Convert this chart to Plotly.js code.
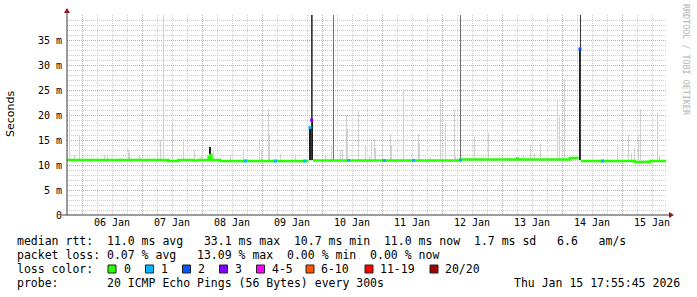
<!DOCTYPE html>
<html><head><meta charset="utf-8">
<script src="https://cdn.plot.ly/plotly-3.0.1.min.js"></script>
<style>html,body{margin:0;padding:0;background:#fff}</style>
</head><body><div id="chart" style="width:697px;height:297px"></div>
<script>
// ---------- data ----------
const xRange = ['2026-01-05 18:00', '2026-01-15 18:00'];
const yTickVals = [0, 5, 10, 15, 20, 25, 30, 35];
const yTickText = ['0', '5 m', '10 m', '15 m', '20 m', '25 m', '30 m', '35 m'];

// median rtt (ms), step line; null = gap where median is drawn as loss-coloured point
const medianTimes = ['2026-01-05 18:00','2026-01-07 10:25','2026-01-07 14:30','2026-01-07 20:40','2026-01-07 22:30',
  '2026-01-08 02:40','2026-01-08 03:20','2026-01-08 03:45','2026-01-08 07:10','2026-01-09 18:40','2026-01-09 18:45',
  '2026-01-09 20:20','2026-01-12 07:20','2026-01-13 06:00','2026-01-13 06:25','2026-01-14 03:10','2026-01-14 06:40',
  '2026-01-14 06:45','2026-01-14 07:30','2026-01-15 05:10','2026-01-15 11:10','2026-01-15 17:35'];
const medianValues = [11.0,10.8,11.0,10.9,11.0,
  11.6,12.0,11.0,10.8,10.8,null,
  10.9,11.1,11.3,11.1,11.4,11.4,
  null,10.8,10.6,10.8,10.8];

// light smoke spikes: time, top (ms)
const smokeTimes = ['2026-01-05 18:55','2026-01-05 20:55','2026-01-05 22:55','2026-01-06 09:05','2026-01-06 10:15',
  '2026-01-06 18:25','2026-01-06 18:55','2026-01-06 22:55','2026-01-07 06:00','2026-01-07 07:35','2026-01-07 08:40',
  '2026-01-07 12:00','2026-01-07 16:40','2026-01-07 20:55','2026-01-07 23:45','2026-01-08 04:25','2026-01-08 11:35',
  '2026-01-08 16:40','2026-01-08 23:05','2026-01-08 23:45','2026-01-09 02:25','2026-01-09 02:55','2026-01-09 07:20',
  '2026-01-09 13:20','2026-01-10 01:35','2026-01-10 03:45','2026-01-10 07:20','2026-01-10 08:00','2026-01-10 09:45',
  '2026-01-10 10:15','2026-01-10 14:25','2026-01-10 17:35','2026-01-10 18:55','2026-01-10 19:45','2026-01-10 21:05',
  '2026-01-10 21:35','2026-01-11 00:15','2026-01-11 03:20','2026-01-11 03:55','2026-01-11 08:25','2026-01-11 12:00',
  '2026-01-11 14:25','2026-01-11 15:05','2026-01-11 19:20','2026-01-11 23:30','2026-01-12 01:20','2026-01-12 04:55',
  '2026-01-12 05:35','2026-01-12 12:50','2026-01-12 18:30','2026-01-13 08:25','2026-01-13 11:20','2026-01-13 13:05',
  '2026-01-13 15:20','2026-01-13 22:15','2026-01-13 23:05','2026-01-14 00:55','2026-01-14 22:00','2026-01-15 02:25',
  '2026-01-15 03:45','2026-01-15 04:55','2026-01-15 06:25','2026-01-15 07:20','2026-01-15 14:15','2026-01-15 15:05'];
const smokeTops = [21.1,12.0,15.8,12.0,11.8,
  13.1,12.5,12.0,13.0,15.0,45,
  18.3,15.3,13.0,12.0,13.0,12.0,
  13.3,14.7,12.8,21.2,16.3,12.3,
  12.3,12.0,13.8,13.0,13.0,20.1,
  17.2,20.8,13.8,12.0,15.3,15.3,
  13.5,14.5,16.3,14.0,25.2,12.5,
  16.3,14.5,11.7,23.5,18.3,21.2,
  11.7,15.7,16.5,12.0,14.1,12.5,
  14.3,23.1,19.7,27.2,14.3,16.1,
  12.5,13.5,16.1,21.2,20.5,12.0];

// dense (dark) smoke
const denseTimes = ['2026-01-08 02:55','2026-01-08 03:20','2026-01-09 18:48','2026-01-09 19:12','2026-01-09 19:36',
  '2026-01-09 20:00','2026-01-14 06:48','2026-01-14 07:12'];
const denseTops = [13.7,13.7,17.5,17.5,17.5,19.0,33.2,33.2];

// smoke that runs off the top of the chart
const darkTallTimes = ['2026-01-09 19:36','2026-01-14 07:12'];
const darkTallTops = [45, 45];
const grayTallTimes = ['2026-01-09 20:10','2026-01-10 04:30','2026-01-12 07:20'];
const grayTallTops = [45, 45, 45];

const smokeBase = 11.0;

// median points with packet loss: time, value, lost pings of 20
const lossTimes = ['2026-01-08 17:20','2026-01-09 05:20','2026-01-09 17:05','2026-01-09 19:12','2026-01-09 19:50',
  '2026-01-10 10:40','2026-01-11 00:55','2026-01-11 12:40','2026-01-12 07:20','2026-01-14 07:12','2026-01-14 16:15'];
const lossValues = [10.8,10.8,10.8,17.5,19.0,10.9,10.9,10.9,11.0,33.2,10.8];
const lossCounts = [1,1,1,1,3,1,1,1,1,2,1];

// loss colour legend
const lossLabels = ['0','1','2','3','4-5','6-10','11-19','20/20'];
const lossPalette = ['#26ff00','#00b8ff','#0059ff','#7e00ff','#ff00ff','#ff5500','#ff0000','#a10000'];

const statLines = [
  'median rtt:  11.0 ms avg   33.1 ms max  10.7 ms min  11.0 ms now  1.7 ms sd   6.6   am/s',
  'packet loss: 0.07 % avg   13.09 % max  0.00 % min  0.00 % now',
  'loss color:',
  'probe:       20 ICMP Echo Pings (56 Bytes) every 300s'
];
const dateStamp = 'Thu Jan 15 17:55:45 2026';
const yTitle = 'Seconds';
const watermark = 'RRDTOOL / TOBI OETIKER';

// ---------- helpers ----------
const L = 67, T = 15, W = 600, H = 200;
const fx = p => (p - L) / W;
const fy = p => (T + H - p) / H;
const nb = s => s.replace(/ /g, '\u00a0');
const bucket = n => n === 0 ? 0 : n === 1 ? 1 : n === 2 ? 2 : n === 3 ? 3 : n <= 5 ? 4 : n <= 10 ? 5 : n <= 19 ? 6 : 7;
const PX = 24 * 60 * 1000; // one pixel of time

function bars(times, tops, color, w) {
  return {
    type: 'bar', x: times, y: tops.map(t => t - smokeBase), base: times.map(() => smokeBase),
    width: times.map(() => PX * (w || 1)), marker: {color: color, line: {width: 0}},
    hoverinfo: 'skip', showlegend: false
  };
}

const traces = [
  bars(smokeTimes, smokeTops, '#d0d0d0'),
  bars(grayTallTimes, grayTallTops, '#707070'),
  bars(denseTimes, denseTops, '#1e1e1e'),
  bars(darkTallTimes, darkTallTops, '#383838'),
  {type: 'scatter', mode: 'lines', x: medianTimes, y: medianValues, connectgaps: false,
   line: {color: lossPalette[0], width: 2.6, shape: 'hv'}, hoverinfo: 'skip', showlegend: false},
  {type: 'scatter', mode: 'markers', x: lossTimes, y: lossValues,
   marker: {symbol: 'square', size: 3, color: lossCounts.map(c => lossPalette[bucket(c)]), line: {width: 0}},
   hoverinfo: 'skip', showlegend: false}
];

const mono = 'DejaVu Sans Mono';
const annotations = [];
const shapes = [];
const rowY = [241, 255, 269, 283];
[0, 1, 2, 3].forEach(i => annotations.push({
  xref: 'paper', yref: 'paper', x: fx(16), y: fy(rowY[i]), xanchor: 'left', yanchor: 'middle',
  text: nb(statLines[i]), showarrow: false, borderpad: 0, font: {family: mono, size: 11.5, color: '#000'}
}));
annotations.push({xref: 'paper', yref: 'paper', x: fx(681), y: fy(283), xanchor: 'right', yanchor: 'middle',
  text: nb(dateStamp), showarrow: false, borderpad: 0, font: {family: mono, size: 11.5, color: '#000'}});
const boxX = [108, 145.5, 182.5, 219.5, 256.5, 306, 365, 430];
const labX = [122.5, 160, 197, 234, 271, 320, 379, 444];
lossLabels.forEach((lab, i) => {
  shapes.push({type: 'rect', xref: 'paper', yref: 'paper', x0: fx(boxX[i]), x1: fx(boxX[i] + 8),
    y0: fy(265), y1: fy(273), fillcolor: lossPalette[i], line: {color: '#222', width: 1}});
  annotations.push({xref: 'paper', yref: 'paper', x: fx(labX[i]), y: fy(rowY[2]), xanchor: 'left', yanchor: 'middle',
    text: nb(lab), showarrow: false, borderpad: 0, font: {family: mono, size: 11.5, color: '#000'}});
});
annotations.push({xref: 'paper', yref: 'paper', x: fx(10), y: fy(114), xanchor: 'center', yanchor: 'middle',
  text: yTitle, textangle: -90, showarrow: false, borderpad: 0, font: {family: 'DejaVu Sans', size: 11, color: '#000'}});
annotations.push({xref: 'paper', yref: 'paper', x: fx(686), y: fy(60), xanchor: 'center', yanchor: 'middle',
  text: nb(watermark), textangle: 90, showarrow: false, borderpad: 0, font: {family: mono, size: 8.4, color: '#b4b4b4'}});

// axis lines with arrows
shapes.push({type: 'line', xref: 'paper', yref: 'paper', x0: fx(67), x1: fx(67), y0: fy(215), y1: fy(11), line: {color: '#3a3a3a', width: 1}});
shapes.push({type: 'line', xref: 'paper', yref: 'paper', x0: fx(62), x1: fx(670), y0: fy(215), y1: fy(215), line: {color: '#3a3a3a', width: 1}});
shapes.push({type: 'path', xref: 'paper', yref: 'paper',
  path: `M ${fx(64)} ${fy(13)} L ${fx(70)} ${fy(13)} L ${fx(67)} ${fy(8)} Z`, fillcolor: '#8b1a1a', line: {width: 0}});
shapes.push({type: 'path', xref: 'paper', yref: 'paper',
  path: `M ${fx(669)} ${fy(212)} L ${fx(669)} ${fy(218)} L ${fx(674)} ${fy(215)} Z`, fillcolor: '#8b1a1a', line: {width: 0}});

const layout = {
  width: 697, height: 297, margin: {l: L, r: 697 - L - W, t: T, b: 297 - T - H, pad: 0},
  paper_bgcolor: '#fff', plot_bgcolor: '#fff', barmode: 'overlay', bargap: 0, showlegend: false,
  xaxis: {
    type: 'date', range: xRange, tick0: '2026-01-06', dtick: 86400000, ticklabelmode: 'period',
    tickformat: '%d %b', ticks: '', showline: false, zeroline: false,
    showgrid: true, gridcolor: '#dc9c9c', griddash: '1px,1px', gridwidth: 1,
    minor: {tick0: '2026-01-06', dtick: 21600000, showgrid: true, gridcolor: '#cdcdcd', griddash: '1px,1px', gridwidth: 1},
    tickfont: {family: mono, size: 10, color: '#000'}, fixedrange: true
  },
  yaxis: {
    range: [0, 40], tickmode: 'array', tickvals: yTickVals, ticktext: yTickText, ticks: '',
    showline: false, zeroline: false, showgrid: true, gridcolor: '#dc9c9c', griddash: '1px,1px', gridwidth: 1,
    minor: {tick0: 0, dtick: 1, showgrid: true, gridcolor: '#cdcdcd', griddash: '1px,1px', gridwidth: 1},
    tickfont: {family: mono, size: 10, color: '#000'}, ticklabelstandoff: 4, fixedrange: true
  },
  annotations: annotations, shapes: shapes
};

Plotly.newPlot('chart', traces, layout, {staticPlot: true, displayModeBar: false});
</script>
</body></html>
